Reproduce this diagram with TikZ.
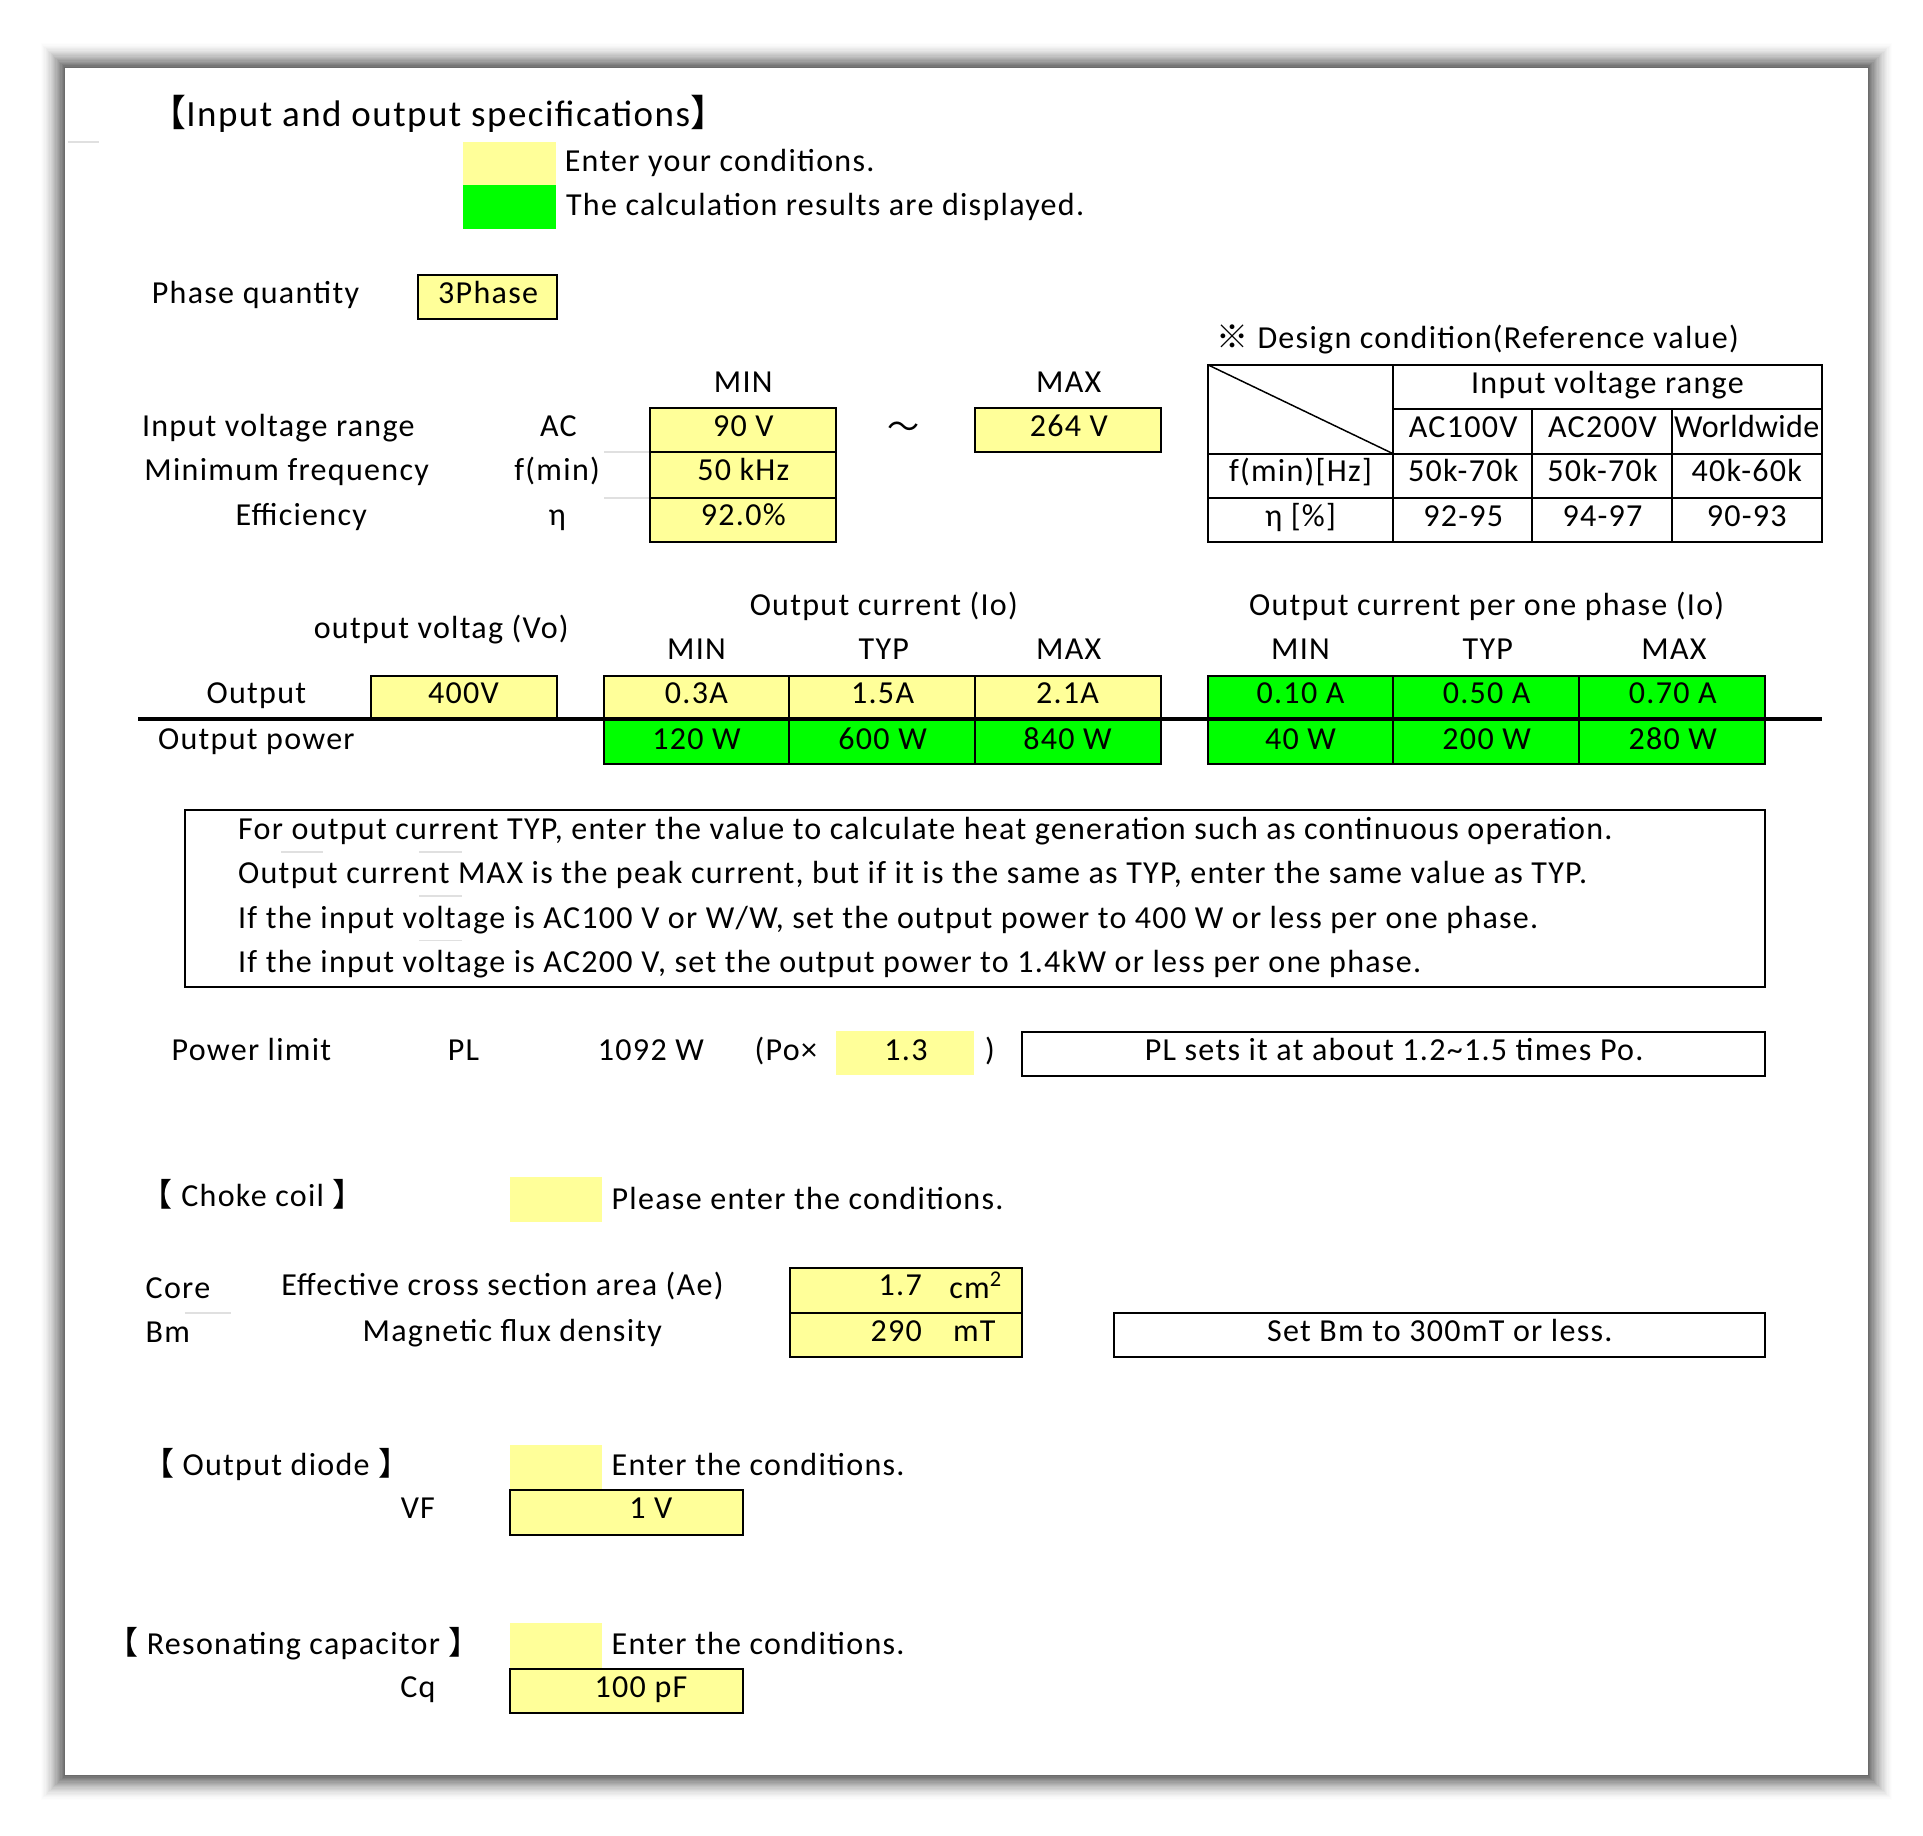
\documentclass[tikz,border=0pt]{standalone}
\usepackage{fontspec}
\setmainfont{Carlito}[LetterSpace=4.0]
\newfontfamily\cjk{Noto Sans CJK JP}
\definecolor{yel}{RGB}{255,255,153}
\definecolor{grn}{RGB}{0,255,0}
\newcommand\fs{\fontsize{26}{31}\selectfont}
\newcommand\fst{\fontsize{30}{35}\selectfont}
\begin{document}
\begin{tikzpicture}[x=1pt,y=-1pt,
  every node/.style={inner sep=0pt},
  txt/.style={anchor=base,font=\fs},
  lt/.style={anchor=base west,font=\fs},
  rt/.style={anchor=base east,font=\fs},
  cell/.style={draw=black,line width=1.6pt},
  ybox/.style={cell,fill=yel},
  gbox/.style={cell,fill=grn},
  tline/.style={draw=black,line width=1.6pt},
  faint/.style={draw=black!12,line width=1.5pt}]
\useasboundingbox (0,0) rectangle (1560,1489);
% shadow
\foreach \i in {20,...,1} {
  \pgfmathsetmacro\c{58*(1-(\i-1)/20)^1.5}
  \fill[black!\c] (53-\i,55-\i) rectangle (1515+\i,1440+\i);
}
\fill[white] (53,55) rectangle (1515,1440);
\draw[faint] (55,115) -- (80,115);
% title and legend
\node[lt,font=\fst] (title) at (121,103) {{\cjk 【}Input and output specifications{\cjk 】}};
\fill[yel] (376,115) rectangle (451,150);
\fill[grn] (376,150) rectangle (451,186);
\node[lt] (leg1) at (458,139) {Enter your conditions.};
\node[lt] (leg2) at (459,175) {The calculation results are displayed.};
% phase
\node[lt] (phq) at (123,246) {Phase quantity};
\draw[ybox] (339,223) rectangle (452,259);
\node[txt] (ph) at (396,246) {3Phase};
% design condition table
\node[lt] (dc) at (987,283) {{\cjk ※} Design condition(Reference value)};
\draw[tline] (980,296) rectangle (1478,440);
\draw[tline] (1130,296) -- (1130,440);
\draw[tline] (1243,332) -- (1243,440);
\draw[tline] (1356,332) -- (1356,440);
\draw[tline] (1130,332) -- (1478,332);
\draw[tline] (980,368) -- (1478,368);
\draw[tline] (980,404) -- (1478,404);
\draw[black,line width=1.2pt] (980,296) -- (1130,368);
\node[txt] (ivr) at (1304,319) {Input voltage range};
\node[txt] (ac1) at (1187,355) {AC100V};
\node[txt] (ac2) at (1300,355) {AC200V};
\node[txt] (ww) at (1417,355) {\addfontfeature{LetterSpace=1.0}Worldwide};
\node[txt] (fh) at (1055,391) {f(min)[Hz]};
\node[txt] (f1) at (1187,391) {50k-70k};
\node[txt] (f2) at (1300,391) {50k-70k};
\node[txt] (f3) at (1417,391) {40k-60k};
\node[txt] (eh) at (1055,427) {η [\%]};
\node[txt] (e1) at (1187,427) {92-95};
\node[txt] (e2) at (1300,427) {94-97};
\node[txt] (e3) at (1417,427) {90-93};
% input conditions
\node[txt] (min0) at (603,318) {MIN};
\node[txt] (max0) at (867,318) {MAX};
\node[lt] (l1) at (115,354) {Input voltage range};
\node[lt] (l2) at (117,390) {Minimum frequency};
\node[lt] (l3) at (191,426) {Efficiency};
\node[txt] (s1) at (453,354) {AC};
\node[txt] (s2) at (452,390) {f(min)};
\node[txt] (s3) at (452,426) {η};
\draw[faint] (490,367) -- (527,367);
\draw[faint] (490,404) -- (527,404);
\draw[ybox] (527,331) rectangle (678,440);
\draw[tline] (527,367) -- (678,367);
\draw[tline] (527,404) -- (678,404);
\node[txt] (v1) at (603,354) {90 V};
\node[txt] (v2) at (603,390) {50 kHz};
\node[txt] (v3) at (603,426) {92.0\%};
\node[txt,font=\fs\cjk] (tl) at (733,356) {〜};
\draw[ybox] (791,331) rectangle (942,367);
\node[txt] (vmax) at (867,354) {264 V};
% output section
\node[txt] (oc) at (717,499) {Output current (Io)};
\node[txt] (ov) at (358,518) {output voltag (Vo)};
\node[txt] (ocp) at (1206,499) {Output current per one phase (Io)};
\node[txt] (m1) at (565,535) {MIN};
\node[txt] (t1) at (717,535) {TYP};
\node[txt] (x1) at (867,535) {MAX};
\node[txt] (m2) at (1055,535) {MIN};
\node[txt] (t2) at (1207,535) {TYP};
\node[txt] (x2) at (1358,535) {MAX};
\node[txt] (out) at (208,571) {Output};
\fill[yel] (301,548) rectangle (452,583);
\draw[tline] (301,583) -- (301,548) -- (452,548) -- (452,583);
\node[txt] (vo) at (376,571) {400V};
\draw[ybox] (490,548) rectangle (942,583);
\draw[tline] (640,548) -- (640,583);
\draw[tline] (791,548) -- (791,583);
\node[txt] (i1) at (565,571) {0.3A};
\node[txt] (i2) at (716,571) {1.5A};
\node[txt] (i3) at (866,571) {2.1A};
\draw[gbox] (490,583) rectangle (942,620);
\draw[tline] (640,583) -- (640,620);
\draw[tline] (791,583) -- (791,620);
\node[txt] (p1) at (565,608) {120 W};
\node[txt] (p2) at (716,608) {600 W};
\node[txt] (p3) at (866,608) {840 W};
\draw[gbox] (980,548) rectangle (1432,620);
\draw[tline] (1130,548) -- (1130,620);
\draw[tline] (1281,548) -- (1281,620);
\node[txt] (j1) at (1055,571) {0.10 A};
\node[txt] (j2) at (1206,571) {0.50 A};
\node[txt] (j3) at (1357,571) {0.70 A};
\node[txt] (q1) at (1055,608) {40 W};
\node[txt] (q2) at (1206,608) {200 W};
\node[txt] (q3) at (1357,608) {280 W};
\draw[black,line width=3pt] (112,583) -- (1478,583);
\node[txt] (op) at (208,608) {Output power};
% notes
\draw[tline] (150,657) rectangle (1432,801);
\draw[faint] (228,691) -- (262,691);
\draw[faint] (340,691) -- (375,691);
\draw[faint] (340,727) -- (375,727);
\draw[faint] (340,763) -- (375,763);
\node[lt] (n1) at (193,681) {For output current TYP, enter the value to calculate heat generation such as continuous operation.};
\node[lt] (n2) at (193,717) {Output current MAX is the peak current, but if it is the same as TYP, enter the same value as TYP.};
\node[lt] (n3) at (193,753) {If the input voltage is AC100 V or W/W, set the output power to 400 W or less per one phase.};
\node[lt] (n4) at (193,789) {If the input voltage is AC200 V, set the output power to 1.4kW or less per one phase.};
% power limit
\node[lt] (pl) at (139,860) {Power limit};
\node[txt] (pls) at (376,860) {PL};
\node[txt] (plv) at (528,860) {1092 W};
\node[lt] (po) at (612,860) {(Po×};
\fill[yel] (678,836) rectangle (790,872);
\node[txt] (k) at (735,860) {1.3};
\node[txt] (pc) at (803,860) {)};
\draw[tline] (829,837) rectangle (1432,873);
\node[txt] (plt) at (1131,860) {PL sets it at about 1.2\textasciitilde 1.5 times Po.};
% choke coil
\node[lt] (cc) at (114,979) {{\cjk 【} Choke coil {\cjk 】}};
\fill[yel] (414,955) rectangle (488,991);
\node[lt] (cct) at (496,981) {Please enter the conditions.};
\node[lt] (core) at (118,1053) {Core};
\node[lt] (bm) at (118,1089) {Bm};
\draw[faint] (150,1065) -- (187,1065);
\node[lt] (ae) at (228,1051) {Effective cross section area (Ae)};
\node[lt] (mf) at (294,1088) {Magnetic flux density};
\draw[ybox] (641,1029) rectangle (829,1101);
\draw[tline] (641,1065) -- (829,1065);
\node[rt] (aev) at (748,1051) {1.7};
\node[lt] (aeu) at (770,1053) {cm\textsuperscript{2}};
\node[rt] (bmv) at (748,1088) {290};
\node[lt] (bmu) at (773,1088) {mT};
\draw[tline] (904,1065) rectangle (1432,1101);
\node[txt] (bmt) at (1168,1088) {Set Bm to 300mT or less.};
% output diode
\node[lt] (od) at (115,1197) {{\cjk 【} Output diode {\cjk 】}};
\fill[yel] (414,1172) rectangle (488,1208);
\node[lt] (odt) at (496,1197) {Enter the conditions.};
\node[txt] (vf) at (339,1232) {VF};
\draw[ybox] (414,1209) rectangle (603,1245);
\node[txt] (vfv) at (528,1232) {1 V};
% resonating capacitor
\node[lt] (rc) at (86,1342) {{\cjk 【} Resonating capacitor {\cjk 】}};
\fill[yel] (414,1317) rectangle (488,1353);
\node[lt] (rct) at (496,1342) {Enter the conditions.};
\node[txt] (cq) at (339,1377) {Cq};
\draw[ybox] (414,1354) rectangle (603,1390);
\node[txt] (cqv) at (520,1377) {100 pF};
\end{tikzpicture}
\end{document}
